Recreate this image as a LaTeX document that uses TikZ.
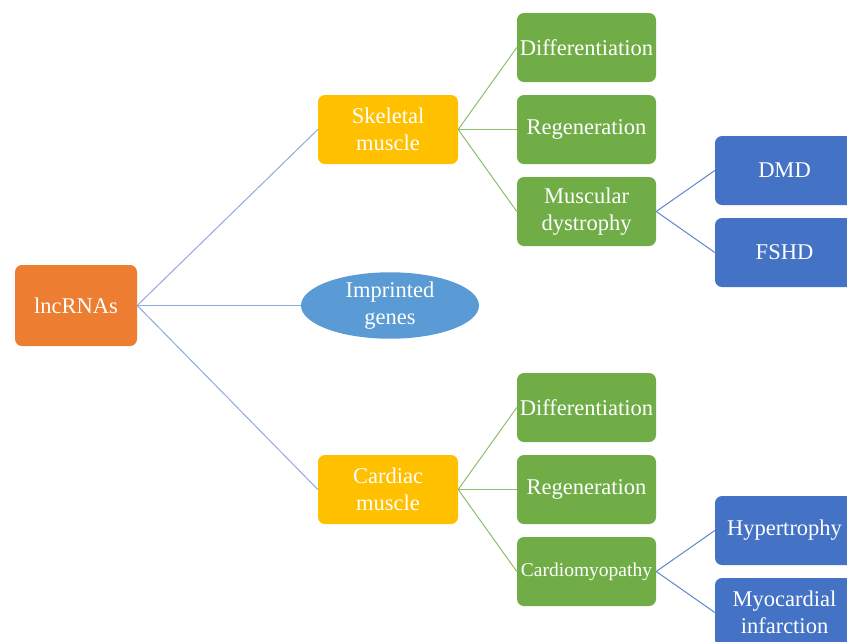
\documentclass[tikz,border=0pt]{standalone}
\usepackage{fontspec}
\setmainfont{Liberation Serif}
\usetikzlibrary{shapes.geometric}
\definecolor{cOrange}{RGB}{237,125,49}
\definecolor{cGold}{RGB}{255,192,0}
\definecolor{cGreen}{RGB}{112,173,71}
\definecolor{cBlue}{RGB}{68,114,196}
\definecolor{cEll}{RGB}{91,155,213}
\definecolor{lBlue}{RGB}{143,170,220}
\definecolor{lGreen}{RGB}{140,192,105}
\definecolor{lDark}{RGB}{95,135,205}
\tikzset{
  box/.style={rectangle, rounded corners=7pt, draw=none, text=white, align=center,
    inner sep=0pt, font=\fontsize{22.5}{26.5}\selectfont},
  rootbox/.style={box, fill=cOrange, minimum width=122pt, minimum height=81pt},
  musclebox/.style={box, fill=cGold, minimum width=140pt, minimum height=69pt},
  greenbox/.style={box, fill=cGreen, minimum width=139pt, minimum height=69pt},
  bluebox/.style={box, fill=cBlue, minimum width=139pt, minimum height=69pt},
  ellbox/.style={ellipse, fill=cEll, text=white, align=center, inner sep=0pt,
    minimum width=178pt, minimum height=63pt, font=\fontsize{22.5}{26.5}\selectfont},
  conA/.style={draw=lBlue, line width=1pt},
  conG/.style={draw=lGreen, line width=1pt},
  conB/.style={draw=lDark, line width=1pt}
}
\begin{document}
\begin{tikzpicture}[x=1pt,y=-1pt]
\path[use as bounding box, clip] (0,0) rectangle (847,641);
\fill[white] (0,0) rectangle (847,641);
\node[rootbox] (lnc) at (76,305.5) {lncRNAs};
\node[musclebox] (skel) at (388,129.5) {Skeletal\\muscle};
\node[ellbox] (imp) at (390,305.5) {Imprinted\\genes};
\node[musclebox] (card) at (388,489.5) {Cardiac\\muscle};
\node[greenbox] (sdiff) at (586.5,47.5) {Differentiation};
\node[greenbox] (sreg) at (586.5,129.5) {Regeneration};
\node[greenbox] (sdys) at (586.5,211.5) {Muscular\\dystrophy};
\node[greenbox] (cdiff) at (586.5,407.5) {Differentiation};
\node[greenbox] (creg) at (586.5,489.5) {Regeneration};
\node[greenbox, font=\fontsize{19.5}{23}\selectfont] (ccm) at (586.5,571.5) {Cardiomyopathy};
\node[bluebox] (dmd) at (784.5,170.5) {DMD};
\node[bluebox] (fshd) at (784.5,252.5) {FSHD};
\node[bluebox] (hyp) at (784.5,530.5) {Hypertrophy};
\node[bluebox] (mi) at (784.5,612.5) {Myocardial\\infarction};
\draw[conA] (lnc.east) -- (skel.west);
\draw[conA] (lnc.east) -- (imp.west);
\draw[conA] (lnc.east) -- (card.west);
\draw[conG] (skel.east) -- (sdiff.west);
\draw[conG] (skel.east) -- (sreg.west);
\draw[conG] (skel.east) -- (sdys.west);
\draw[conG] (card.east) -- (cdiff.west);
\draw[conG] (card.east) -- (creg.west);
\draw[conG] (card.east) -- (ccm.west);
\draw[conB] (sdys.east) -- (dmd.west);
\draw[conB] (sdys.east) -- (fshd.west);
\draw[conB] (ccm.east) -- (hyp.west);
\draw[conB] (ccm.east) -- (mi.west);
\end{tikzpicture}
\end{document}
